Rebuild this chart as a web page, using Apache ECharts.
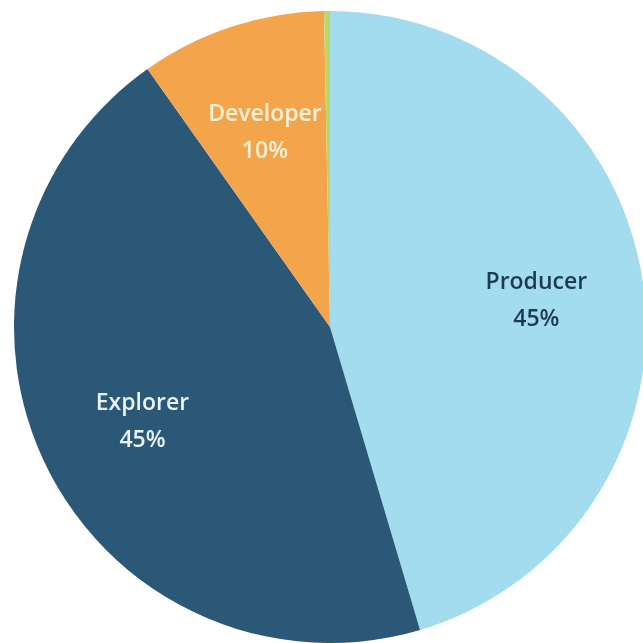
<!DOCTYPE html>
<html>
<head>
<meta charset="utf-8">
<script src="https://cdn.jsdelivr.net/npm/echarts@6/dist/echarts.min.js"></script>
<style>html,body{margin:0;padding:0;background:#fff;}#c{width:643px;height:643px;}</style>
</head>
<body>
<div id="c"></div>
<script>
const categories = ['Producer', 'Explorer', 'Developer', 'Other'];
const values = [45.4, 44.8, 9.5, 0.3];
const showLabel = [true, true, true, false];
const colors = ['#a4dcef', '#2b5876', '#f4a54c', '#b8d96a'];
const labelColors = ['#1d3a50', '#e8f4fa', '#fdf1d6', '#333'];

const chart = echarts.init(document.getElementById('c'));
const base = categories.map((n, i) => ({ name: n, value: values[i] }));
chart.setOption({
  animation: false,
  series: [
    {
      type: 'pie',
      center: [330, 327],
      radius: [0, 316],
      startAngle: 90,
      clockwise: true,
      silent: true,
      label: { show: false },
      labelLine: { show: false },
      itemStyle: { borderWidth: 0 },
      data: base.map((d, i) => ({ ...d, itemStyle: { color: colors[i] } }))
    },
    {
      type: 'pie',
      center: [330, 331],
      radius: [95, 316],
      startAngle: 90,
      clockwise: true,
      silent: true,
      labelLine: { show: false },
      itemStyle: { color: 'rgba(0,0,0,0)', borderWidth: 0 },
      data: base.map((d, i) => ({
        ...d,
        label: {
          show: showLabel[i],
          position: 'inside',
          color: labelColors[i],
          fontFamily: 'Open Sans',
          fontWeight: 600,
          fontSize: 23,
          lineHeight: 37,
          formatter: (p) => p.name + '\n' + Math.round(p.percent) + '%'
        }
      }))
    }
  ]
});
</script>
</body>
</html>
